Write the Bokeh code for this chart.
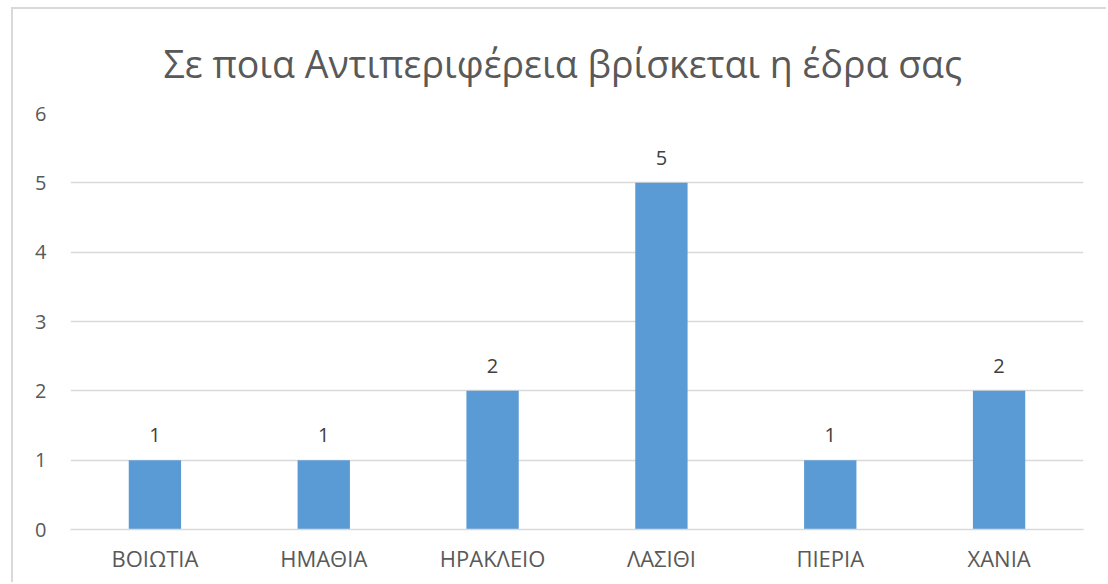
from bokeh.plotting import figure
from bokeh.models import ColumnDataSource, FactorRange, Range1d, FixedTicker, LabelSet
from bokeh.core.properties import value
from bokeh.embed import file_html
from bokeh.resources import INLINE

categories = ["ΒΟΙΩΤΙΑ", "ΗΜΑΘΙΑ", "ΗΡΑΚΛΕΙΟ", "ΛΑΣΙΘΙ", "ΠΙΕΡΙΑ", "ΧΑΝΙΑ"]
counts = [1, 1, 2, 5, 1, 2]
y_ticks = [0, 1, 2, 3, 4, 5, 6]
title_text = "Σε ποια Αντιπεριφέρεια βρίσκεται η έδρα σας"

FONT = "Open Sans"
GRAY = "#595959"
GRID = "#d9d9d9"

src = ColumnDataSource(dict(cat=categories, val=counts, lbl=[str(v) for v in counts]))

p = figure(
    x_range=FactorRange(*categories, range_padding=0),
    y_range=Range1d(0, 6),
    width=1095, height=575,
    output_backend="svg", toolbar_location=None,
    min_border_left=57, min_border_right=25, min_border_top=104, min_border_bottom=55,
)
p.styles = {"border-left": "2px solid #d9d9d9", "border-top": "2px solid #d9d9d9",
            "margin-left": "11px", "margin-top": "7px"}

p.title.text = title_text
p.title.align = "left"
p.title.offset = 93
p.title.text_font = FONT
p.title.text_font_size = "37.5px"
p.title.text_font_style = "normal"
p.title.text_color = GRAY
p.title.standoff = 50

p.vbar(x="cat", top="val", width=0.31, source=src, color="#5B9BD5", line_color=None)

labels = LabelSet(x="cat", y="val", text="lbl", source=src, text_align="center",
                  text_baseline="bottom", y_offset=18, text_font=value(FONT),
                  text_font_size="20px", text_color="#404040")
p.add_layout(labels)

p.outline_line_color = None
p.background_fill_color = "white"
p.border_fill_color = "white"

p.xgrid.grid_line_color = None
p.ygrid.grid_line_color = GRID
p.ygrid.grid_line_width = 1.5
p.yaxis.ticker = FixedTicker(ticks=y_ticks)

p.yaxis.axis_line_color = None
p.yaxis.major_tick_line_color = None
p.yaxis.minor_tick_line_color = None
p.yaxis.major_tick_out = 0
p.yaxis.major_tick_in = 0
p.yaxis.major_label_text_font = FONT
p.yaxis.major_label_text_font_size = "20px"
p.yaxis.major_label_text_color = GRAY
p.yaxis.major_label_standoff = 24

p.xaxis.axis_line_color = GRID
p.xaxis.axis_line_width = 1.5
p.xaxis.major_tick_line_color = None
p.xaxis.minor_tick_line_color = None
p.xaxis.major_tick_out = 0
p.xaxis.major_tick_in = 0
p.xaxis.major_label_text_font = FONT
p.xaxis.major_label_text_font_size = "22px"
p.xaxis.major_label_text_color = GRAY
p.xaxis.major_label_standoff = 13

open("out.html", "w").write(file_html(p, INLINE))
